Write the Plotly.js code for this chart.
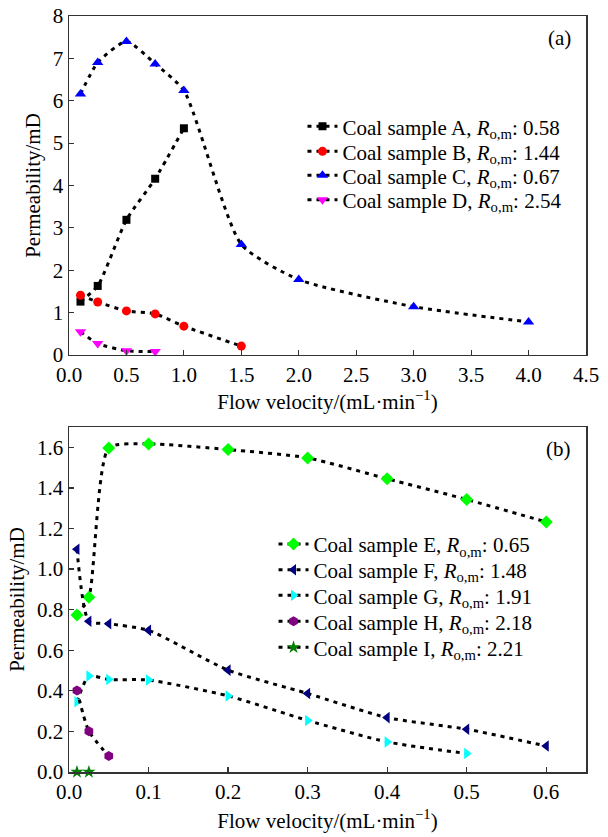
<!DOCTYPE html>
<html>
<head>
<meta charset="utf-8">
<script src="https://cdn.plot.ly/plotly-3.0.1.min.js"></script>
<style>html,body{margin:0;padding:0;background:#fff;}#chart{width:608px;height:837px;}</style>
</head>
<body>
<div id="chart"></div>
<script>
// Panel (a)
const xA = [0.1, 0.25, 0.5, 0.75, 1.0];
const yA = [1.26, 1.63, 3.19, 4.16, 5.35];
const xB = [0.1, 0.25, 0.5, 0.75, 1.0, 1.5];
const yB = [1.41, 1.25, 1.04, 0.97, 0.68, 0.21];
const xC = [0.1, 0.25, 0.5, 0.75, 1.0, 1.5, 2.0, 3.0, 4.0];
const yC = [6.16, 6.90, 7.40, 6.87, 6.24, 2.61, 1.78, 1.14, 0.78];
const xD = [0.1, 0.25, 0.5, 0.75];
const yD = [0.55, 0.27, 0.10, 0.08];
// Panel (b)
const xE = [0.01, 0.025, 0.05, 0.1, 0.2, 0.3, 0.4, 0.5, 0.6];
const yE = [0.774, 0.861, 1.597, 1.617, 1.589, 1.548, 1.445, 1.343, 1.232];
const xF = [0.01, 0.025, 0.05, 0.1, 0.2, 0.3, 0.4, 0.5, 0.6];
const yF = [1.098, 0.743, 0.731, 0.698, 0.502, 0.387, 0.268, 0.211, 0.128];
const xG = [0.01, 0.025, 0.05, 0.1, 0.2, 0.3, 0.4, 0.5];
const yG = [0.346, 0.473, 0.456, 0.453, 0.375, 0.254, 0.148, 0.091];
const xH = [0.01, 0.025, 0.05];
const yH = [0.402, 0.201, 0.079];
const xI = [0.01, 0.025];
const yI = [0.0, 0.0];

const namesA = ["A, <i>R</i><sub>o,m</sub>: 0.58", "B, <i>R</i><sub>o,m</sub>: 1.44", "C, <i>R</i><sub>o,m</sub>: 0.67", "D, <i>R</i><sub>o,m</sub>: 2.54"];
const namesB = ["E, <i>R</i><sub>o,m</sub>: 0.65", "F, <i>R</i><sub>o,m</sub>: 1.48", "G, <i>R</i><sub>o,m</sub>: 1.91", "H, <i>R</i><sub>o,m</sub>: 2.18", "I, <i>R</i><sub>o,m</sub>: 2.21"];

const FONT = "Liberation Serif";
const lineStyle = {color: "#000", width: 3, dash: "4px,5px", shape: "spline", smoothing: 0.6};

function tr(x, y, name, color, symbol, size, xa, ya, leg) {
  return {
    x: x, y: y, type: "scatter", mode: "lines+markers", name: "Coal sample " + name,
    xaxis: xa, yaxis: ya, legend: leg, cliponaxis: false,
    line: lineStyle,
    marker: {color: color, symbol: symbol, size: size}
  };
}

const data = [
  tr(xA, yA, namesA[0], "#000000", "square", 8, "x", "y", "legend"),
  tr(xB, yB, namesA[1], "#ff0000", "circle", 9, "x", "y", "legend2"),
  tr(xC, yC, namesA[2], "#0000ff", "triangle-up", 10, "x", "y", "legend3"),
  tr(xD, yD, namesA[3], "#ff00ff", "triangle-down", 10, "x", "y", "legend4"),
  tr(xE, yE, namesB[0], "#00ff00", "diamond", 10, "x2", "y2", "legend5"),
  tr(xF, yF, namesB[1], "#000080", "triangle-left", 10, "x2", "y2", "legend6"),
  tr(xG, yG, namesB[2], "#00ffff", "triangle-right", 10, "x2", "y2", "legend7"),
  tr(xH, yH, namesB[3], "#800080", "hexagon", 10, "x2", "y2", "legend8"),
  tr(xI, yI, namesB[4], "#008000", "star", 10, "x2", "y2", "legend9")
];

const axisCommon = {
  showgrid: false, zeroline: false, showline: true, mirror: true,
  linecolor: "#333", linewidth: 1.5, ticks: "inside", ticklen: 5, tickwidth: 1.2, tickcolor: "#333",
  tickfont: {family: FONT, size: 21, color: "#000"}
};
const titleFont = {family: FONT, size: 21, color: "#000"};
function leg(xp, yp) {
  return {
    font: {family: FONT, size: 21, color: "#000"}, bgcolor: "rgba(0,0,0,0)",
    xanchor: "left", yanchor: "middle", tracegroupgap: 0, itemwidth: 30,
    x: xp, y: yp
  };
}

const layout = {
  width: 608, height: 837,
  margin: {l: 69, r: 22, t: 16, b: 65},
  paper_bgcolor: "#fff", plot_bgcolor: "#fff",
  font: {family: FONT, size: 21, color: "#000"},
  xaxis: Object.assign({}, axisCommon, {
    domain: [0, 1], anchor: "y", range: [0, 4.5], dtick: 0.5, tick0: 0, tickformat: ".1f",
    title: {text: "Flow velocity/(mL·min<sup>−1</sup>)", font: titleFont, standoff: 8}
  }),
  yaxis: Object.assign({}, axisCommon, {
    domain: [0.5516, 1], anchor: "x", range: [0, 8], dtick: 1, tick0: 0,
    title: {text: "Permeability/mD", font: titleFont, standoff: 6}
  }),
  xaxis2: Object.assign({}, axisCommon, {
    domain: [0, 1], anchor: "y2", range: [0, 0.65], dtick: 0.1, tick0: 0, tickformat: ".1f",
    title: {text: "Flow velocity/(mL·min<sup>−1</sup>)", font: titleFont, standoff: 10}
  }),
  yaxis2: Object.assign({}, axisCommon, {
    domain: [0, 0.4563], anchor: "x2", range: [0, 1.7], dtick: 0.2, tick0: 0, tickformat: ".1f",
    title: {text: "Permeability/mD", font: titleFont, standoff: 6}
  }),
  legend: leg(0.4516, 0.8536),
  legend2: leg(0.4516, 0.8205),
  legend3: leg(0.4516, 0.7888),
  legend4: leg(0.4516, 0.7566),
  legend5: leg(0.3956, 0.3012),
  legend6: leg(0.3956, 0.2672),
  legend7: leg(0.3956, 0.2332),
  legend8: leg(0.3956, 0.1988),
  legend9: leg(0.3956, 0.1644),
  annotations: [
    {text: "(a)", xref: "x domain", yref: "y domain", x: 0.975, y: 0.935, xanchor: "right", yanchor: "middle", showarrow: false, font: {family: FONT, size: 21, color: "#000"}},
    {text: "(b)", xref: "x2 domain", yref: "y2 domain", x: 0.975, y: 0.935, xanchor: "right", yanchor: "middle", showarrow: false, font: {family: FONT, size: 21, color: "#000"}}
  ],
  showlegend: true
};

Plotly.newPlot("chart", data, layout, {displayModeBar: false, staticPlot: true});
</script>
</body>
</html>
